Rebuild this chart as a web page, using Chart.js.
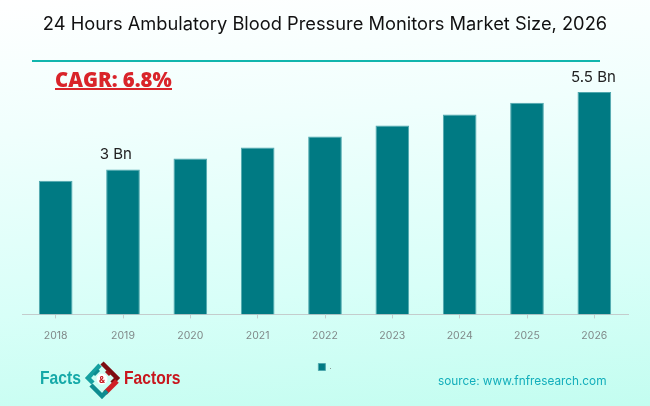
<!DOCTYPE html>
<html>
<head>
<meta charset="utf-8">
<script src="https://cdn.jsdelivr.net/npm/chart.js@4"></script>
<style>
html, body { margin: 0; padding: 0; }
body { width: 650px; height: 406px; overflow: hidden; position: relative; font-family: Inter, sans-serif;
  background: linear-gradient(176deg, #ffffff 0%, #f0fffd 30%, #d8fff8 70%, #c3fdf0 100%); }
#chart { position: absolute; left: 0; top: 0; }
.rule { position: absolute; left: 32px; top: 60px; width: 568px; height: 2px; background: #12b5ad; }
.cagr { position: absolute; left: 55px; top: 71px; font: 800 20.3px "Open Sans", sans-serif; color: #d9242a;
  border-bottom: 2px solid #d9242a; line-height: 17px; }
.source { position: absolute; left: 438px; top: 374px; font: 400 11.8px Inter, sans-serif; color: #13aebb; white-space: nowrap; }
.facts, .factors { position: absolute; top: 369px; font: 700 17px/20px "Liberation Sans", sans-serif; transform: scale(0.92, 1.08); transform-origin: left center; }
.facts { left: 40px; color: #15a9a8; }
.factors { left: 124px; color: #c8161d; }
.mark { position: absolute; left: 83px; top: 360px; }
</style>
</head>
<body>
<canvas id="chart" width="650" height="406"></canvas>
<div class="rule"></div>
<div class="cagr">CAGR: 6.8%</div>
<div class="facts">Facts</div>
<svg class="mark" width="38" height="39" viewBox="0 0 38 39" fill="none" stroke-width="4.5">
  <path d="M17 5 L5 18 L10 23" stroke="#15a0a0"/>
  <path d="M19 3 L34 18 L29 23" stroke="#7d0d12"/>
  <path d="M34 21 L22 33" stroke="#d01f26" stroke-width="5"/>
  <path d="M27 13 L16 25 L19 28" stroke="#d01f26" stroke-width="3" opacity="0"/>
  <path d="M8 25 L19 36 L24 31" stroke="#0e8c90"/>
  <path d="M16 10 L11 15" stroke="#0e8c90" stroke-width="3"/>
  <path d="M23 11 L27 15" stroke="#a01218" stroke-width="3"/>
  <circle cx="19" cy="19" r="5.5" fill="#fff" stroke="none"/>
  <text x="19" y="22.5" font-size="9" font-weight="700" text-anchor="middle" fill="#c8161d" stroke="none">&amp;</text>
</svg>
<div class="factors">Factors</div>
<div class="source">source: www.fnfresearch.com</div>
<script>
const titleText = '24 Hours Ambulatory Blood Pressure Monitors Market Size, 2026';
const years = ['2018', '2019', '2020', '2021', '2022', '2023', '2024', '2025', '2026'];
const marketSize = [2.63, 3, 3.35, 3.71, 4.06, 4.42, 4.77, 5.15, 5.5];
const barLabels = ['', '3 Bn', '', '', '', '', '', '', '5.5 Bn'];
const legendLabel = '.';
const axisMin = -1.68;
const axisMax = 6.435;

// only the two labelled bars get a value above them
const barLabelPlugin = {
    id: 'barLabels',
    afterDatasetsDraw(chart) {
        const ctx = chart.ctx;
        const bars = chart.getDatasetMeta(0).data;
        ctx.save();
        ctx.font = '400 15px Inter, sans-serif';
        ctx.fillStyle = '#222222';
        ctx.textAlign = 'left';
        ctx.textBaseline = 'alphabetic';
        bars.forEach(function (bar, i) {
            if (barLabels[i]) {
                ctx.fillText(barLabels[i], bar.x - bar.width / 2 - 6.5, bar.y - 10);
            }
        });
        ctx.restore();
    }
};

new Chart(document.getElementById('chart').getContext('2d'), {
    type: 'bar',
    data: {
        labels: years,
        datasets: [{
            label: legendLabel,
            data: marketSize,
            base: axisMin,
            backgroundColor: '#007a83',
            borderColor: '#4fa8ae',
            borderWidth: 1,
            barPercentage: 0.5,
            categoryPercentage: 1
        }]
    },
    options: {
        responsive: false,
        animation: false,
        layout: { padding: { left: 22, right: 22, top: 14, bottom: 25 } },
        plugins: {
            title: {
                display: true,
                text: titleText,
                color: '#111111',
                font: { family: 'Inter, sans-serif', size: 18.3, weight: '400' },
                padding: { top: 0, bottom: 27 }
            },
            legend: {
                position: 'bottom',
                labels: {
                    boxWidth: 7,
                    boxHeight: 7,
                    padding: 10,
                    color: '#555555',
                    font: { size: 8 }
                }
            },
            tooltip: { enabled: false }
        },
        scales: {
            x: {
                offset: true,
                grid: { offset: false, drawOnChartArea: false, tickLength: 4, color: '#c4cccc' },
                border: { color: '#c4cccc' },
                ticks: { color: '#808888', font: { family: 'Inter, sans-serif', size: 10.5 }, padding: 11, maxRotation: 0 }
            },
            y: { display: false, min: axisMin, max: axisMax }
        }
    },
    plugins: [barLabelPlugin]
});
</script>
</body>
</html>
